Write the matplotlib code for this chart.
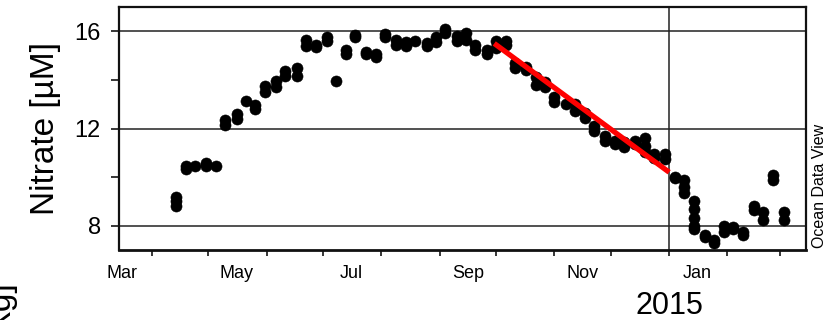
import matplotlib
matplotlib.use("Agg")
import matplotlib.pyplot as plt
from matplotlib.transforms import blended_transform_factory
from datetime import datetime

plt.rcParams['font.family'] = ['Liberation Sans', 'DejaVu Sans']

# Sampling dates and the nitrate values measured on each date (several depths)
sample_dates = [
    "2014-04-14", "2014-04-19", "2014-04-24", "2014-04-30", "2014-05-05",
    "2014-05-10", "2014-05-16", "2014-05-21", "2014-05-26", "2014-05-31",
    "2014-06-06", "2014-06-11", "2014-06-17", "2014-06-22", "2014-06-27",
    "2014-07-03", "2014-07-08", "2014-07-13", "2014-07-18", "2014-07-24",
    "2014-07-29", "2014-08-03", "2014-08-09", "2014-08-14", "2014-08-19",
    "2014-08-25", "2014-08-30", "2014-09-04", "2014-09-10", "2014-09-15",
    "2014-09-20", "2014-09-26", "2014-10-01", "2014-10-06", "2014-10-11",
    "2014-10-17", "2014-10-22", "2014-10-27", "2014-11-01", "2014-11-07",
    "2014-11-12", "2014-11-17", "2014-11-22", "2014-11-28", "2014-12-03",
    "2014-12-08", "2014-12-14", "2014-12-19", "2014-12-24", "2014-12-30",
    "2015-01-04", "2015-01-09", "2015-01-14", "2015-01-20", "2015-01-25",
    "2015-01-30", "2015-02-04", "2015-02-09", "2015-02-15", "2015-02-20",
    "2015-02-25", "2015-03-03",
]
nitrate_values = [
    [9.2, 9.0, 8.8], [10.45, 10.35], [10.47], [10.6, 10.45], [10.45],
    [12.35, 12.15], [12.6, 12.4], [13.15], [12.95, 12.8], [13.75, 13.5],
    [13.95, 13.7], [14.35, 14.15], [14.5, 14.15], [15.65, 15.4], [15.45, 15.35],
    [15.75, 15.6], [13.95], [15.25, 15.05], [15.85, 15.75], [15.15, 15.05],
    [15.05, 14.95], [15.9, 15.75], [15.65, 15.45], [15.55, 15.4], [15.6],
    [15.5, 15.4], [15.75, 15.55], [16.1, 15.95], [15.8, 15.6], [15.95, 15.65],
    [15.45, 15.25], [15.25, 15.05], [15.6, 15.3], [15.6, 15.45], [14.7, 14.5],
    [14.55, 14.4], [14.1, 13.8], [13.9, 13.7], [13.3, 13.1], [13.0],
    [13.0, 12.7], [12.65, 12.45], [12.1, 11.9], [11.7, 11.5], [11.5, 11.35],
    [11.45, 11.25], [11.5, 11.35], [11.6, 11.3, 11.05], [10.95, 10.8], [10.95, 10.75],
    [10.0, 9.95], [9.9, 9.6, 9.35], [9.0, 8.7, 8.3, 8.0, 7.85], [7.6, 7.55], [7.4, 7.3],
    [8.0, 7.75], [7.95, 7.85], [7.75, 7.6], [8.8, 8.65], [8.55, 8.25],
    [10.1, 9.9], [8.55, 8.25],
]

# Autumn drawdown trend line
trend_dates = ["2014-09-30", "2015-01-01"]
trend_values = [15.5, 10.2]

# Axis labelling
y_major = [8, 12, 16]
y_minor = [10, 14]
month_labels = ["Mar", "May", "Jul", "Sep", "Nov", "Jan"]
month_label_dates = ["2014-03-16", "2014-05-16", "2014-07-16",
                     "2014-09-16", "2014-11-16", "2015-01-16"]
year_label = "2015"

to_dt = lambda s: datetime.strptime(s, "%Y-%m-%d")

fig = plt.figure(figsize=(8.25, 3.2), dpi=100)
ax = fig.add_axes([119 / 825, 1 - 250 / 320, (806 - 119) / 825, (250 - 7) / 320])

xs, ys = [], []
for d, vals in zip(sample_dates, nitrate_values):
    for v in vals:
        xs.append(to_dt(d))
        ys.append(v)
ax.scatter(xs, ys, s=64, color="black", edgecolors="black", linewidths=0.4,
           zorder=3)

ax.plot([to_dt(d) for d in trend_dates], trend_values, color="#ff0000",
        lw=3.8, solid_capstyle="butt", zorder=4)

ax.set_xlim(datetime(2014, 3, 14, 12), datetime(2015, 3, 14, 18))
ax.set_ylim(7, 17)

# grid lines at labelled nitrate levels and at the year boundary
for yv in y_major:
    ax.axhline(yv, color="#222222", lw=1.1, zorder=1)
ax.axvline(datetime(2015, 1, 1), color="#222222", lw=1.1, zorder=1)

ax.set_yticks(y_major)
ax.set_yticks(y_minor, minor=True)
ax.tick_params(axis="y", which="both", direction="out", length=6, width=1.1,
               labelsize=17, pad=7, colors="black")

month_starts = [datetime(2014, m, 1) for m in range(4, 13)] + \
               [datetime(2015, m, 1) for m in range(1, 4)]
ax.set_xticks(month_starts, minor=True)
ax.set_xticks([to_dt(d) for d in month_label_dates])
ax.set_xticklabels(month_labels)
ax.tick_params(axis="x", which="minor", direction="out", length=4, width=1.1)
ax.tick_params(axis="x", which="major", length=0, labelsize=13, pad=11)
ax.tick_params(top=False, right=False, which="both")

for side, sp in ax.spines.items():
    sp.set_linewidth(1.6)
    sp.set_color("#111111")
ax.spines["bottom"].set_linewidth(2.0)

ax.set_ylabel("Nitrate [µM]", fontsize=24, labelpad=10)

trans = blended_transform_factory(ax.transData, fig.transFigure)
ax.text(datetime(2015, 1, 1), 1 - 314 / 320, year_label, transform=trans,
        ha="center", va="baseline", fontsize=22)

fig.text(819 / 825, 1 - 248 / 320, "Ocean Data View", rotation=90,
         ha="center", va="bottom", fontsize=11.5)
fig.text(0 / 825, 1 - 280 / 320, "[kg]", rotation=90,
         ha="center", va="top", fontsize=24)

fig.savefig("out.png", dpi=100)
